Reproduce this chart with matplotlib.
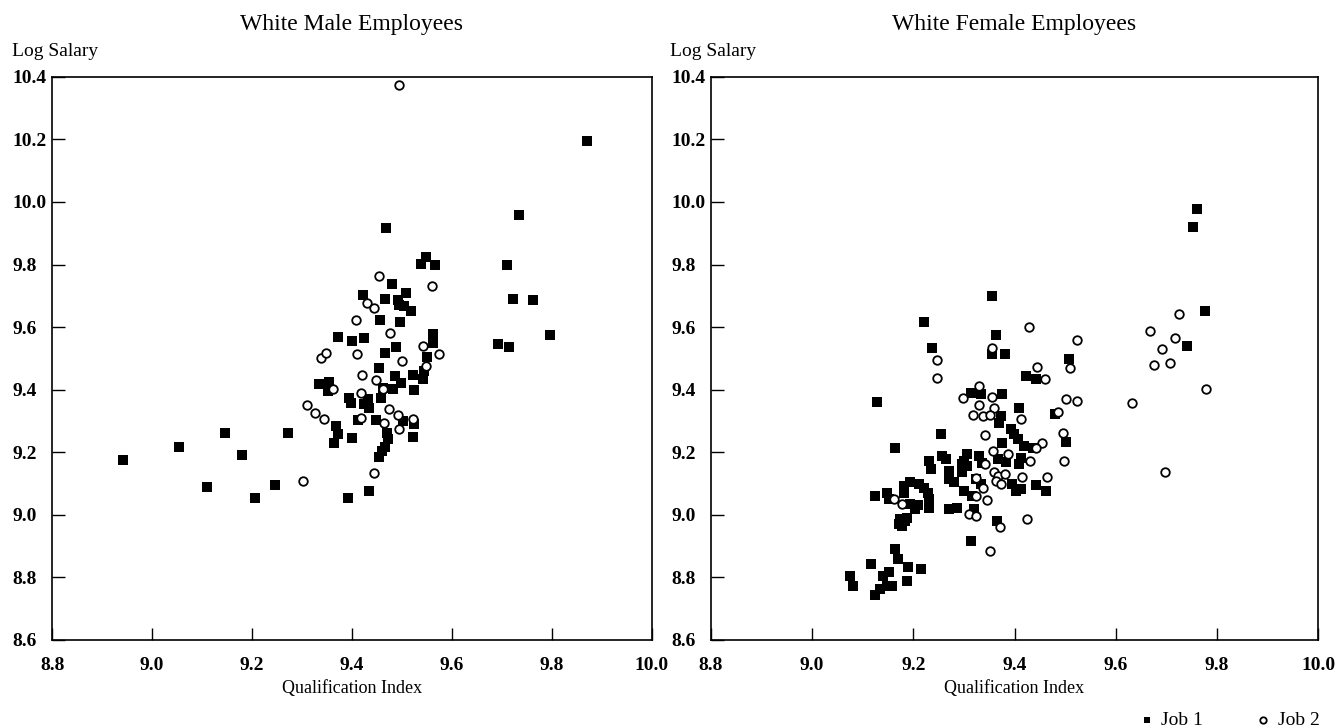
import matplotlib
matplotlib.use("Agg")
import matplotlib.pyplot as plt

plt.rcParams['font.family'] = ['Liberation Serif', 'DejaVu Serif']

# White male employees: (qualification index, log salary)
male_job1_x = [8.942, 9.053, 9.145, 9.179, 9.271, 9.109, 9.206, 9.245, 9.393, 9.369,
               9.372, 9.365, 9.469, 9.735, 9.549, 9.539, 9.566, 9.481, 9.509, 9.423,
               9.467, 9.492, 9.495, 9.505, 9.519, 9.457, 9.497, 9.710, 9.722, 9.763,
               9.797, 9.692, 9.714, 9.372, 9.401, 9.425, 9.563, 9.562, 9.467, 9.489,
               9.551, 9.545, 9.542, 9.455, 9.522, 9.487, 9.499, 9.482, 9.462, 9.525,
               9.335, 9.354, 9.352, 9.395, 9.399, 9.432, 9.435, 9.425, 9.459, 9.412,
               9.449, 9.502, 9.525, 9.401, 9.470, 9.472, 9.467, 9.523, 9.454, 9.870,
               9.435, 9.460]
male_job1_y = [9.174, 9.216, 9.263, 9.190, 9.262, 9.088, 9.053, 9.095, 9.053, 9.284,
               9.257, 9.231, 9.917, 9.957, 9.825, 9.803, 9.799, 9.737, 9.710, 9.702,
               9.691, 9.688, 9.672, 9.667, 9.651, 9.624, 9.616, 9.797, 9.690, 9.686,
               9.574, 9.547, 9.536, 9.568, 9.555, 9.565, 9.577, 9.550, 9.516, 9.536,
               9.504, 9.459, 9.433, 9.470, 9.447, 9.443, 9.422, 9.401, 9.406, 9.398,
               9.417, 9.424, 9.396, 9.374, 9.358, 9.369, 9.343, 9.353, 9.374, 9.302,
               9.302, 9.300, 9.289, 9.245, 9.263, 9.241, 9.218, 9.250, 9.185, 10.196,
               9.075, 9.205]

male_job2_x = [9.301, 9.310, 9.327, 9.345, 9.454, 9.561, 9.431, 9.445, 9.409, 9.477,
               9.542, 9.575, 9.339, 9.349, 9.410, 9.501, 9.549, 9.421, 9.449, 9.463,
               9.362, 9.419, 9.475, 9.492, 9.419, 9.464, 9.522, 9.494, 9.495, 9.445]
male_job2_y = [9.107, 9.352, 9.327, 9.305, 9.763, 9.730, 9.678, 9.660, 9.624, 9.580,
               9.541, 9.515, 9.502, 9.516, 9.515, 9.491, 9.475, 9.447, 9.430, 9.403,
               9.401, 9.388, 9.337, 9.318, 9.311, 9.292, 9.307, 9.273, 10.374, 9.135]

# White female employees
female_job1_x = [9.355, 9.222, 9.363, 9.237, 9.355, 9.381, 9.507, 9.422, 9.442, 9.128,
                 9.313, 9.333, 9.376, 9.409, 9.374, 9.370, 9.481, 9.254, 9.393, 9.399,
                 9.406, 9.501, 9.376, 9.164, 9.419, 9.436, 9.257, 9.231, 9.264, 9.234,
                 9.307, 9.300, 9.297, 9.330, 9.335, 9.368, 9.383, 9.413, 9.409, 9.270,
                 9.270, 9.280, 9.297, 9.307, 9.396, 9.402, 9.412, 9.442, 9.462, 9.323,
                 9.333, 9.300, 9.315, 9.320, 9.270, 9.287, 9.366, 9.181, 9.194, 9.211,
                 9.221, 9.229, 9.230, 9.230, 9.181, 9.125, 9.148, 9.151, 9.194, 9.209,
                 9.204, 9.174, 9.188, 9.171, 9.184, 9.177, 9.313, 9.164, 9.170, 9.117,
                 9.190, 9.216, 9.141, 9.151, 9.188, 9.075, 9.081, 9.148, 9.135, 9.125,
                 9.158, 9.761, 9.752, 9.776, 9.741]
female_job1_y = [9.699, 9.617, 9.574, 9.532, 9.513, 9.513, 9.497, 9.443, 9.435, 9.360,
                 9.390, 9.385, 9.387, 9.343, 9.316, 9.295, 9.321, 9.257, 9.273, 9.257,
                 9.241, 9.234, 9.231, 9.215, 9.220, 9.215, 9.188, 9.172, 9.178, 9.146,
                 9.193, 9.172, 9.162, 9.188, 9.167, 9.178, 9.169, 9.183, 9.162, 9.140,
                 9.116, 9.105, 9.137, 9.156, 9.098, 9.076, 9.082, 9.095, 9.076, 9.114,
                 9.098, 9.076, 9.060, 9.020, 9.018, 9.023, 8.981, 9.092, 9.105, 9.098,
                 9.087, 9.071, 9.050, 9.023, 9.071, 9.060, 9.071, 9.050, 9.034, 9.031,
                 9.018, 8.988, 8.991, 8.970, 8.980, 8.965, 8.917, 8.890, 8.858, 8.842,
                 8.832, 8.826, 8.805, 8.818, 8.789, 8.803, 8.773, 8.773, 8.763, 8.743,
                 8.773, 9.979, 9.921, 9.650, 9.539]

female_job2_x = [9.429, 9.523, 9.356, 9.246, 9.510, 9.444, 9.461, 9.246, 9.330, 9.299,
                 9.356, 9.360, 9.330, 9.501, 9.524, 9.318, 9.338, 9.351, 9.413, 9.485,
                 9.342, 9.495, 9.454, 9.442, 9.358, 9.387, 9.341, 9.430, 9.498, 9.360,
                 9.368, 9.381, 9.363, 9.373, 9.414, 9.465, 9.323, 9.338, 9.324, 9.345,
                 9.310, 9.323, 9.425, 9.371, 9.161, 9.178, 9.352, 9.726, 9.668, 9.718,
                 9.691, 9.675, 9.708, 9.778, 9.632, 9.697]
female_job2_y = [9.601, 9.560, 9.532, 9.494, 9.470, 9.472, 9.434, 9.438, 9.412, 9.372,
                 9.375, 9.343, 9.350, 9.371, 9.365, 9.318, 9.316, 9.319, 9.307, 9.330,
                 9.254, 9.263, 9.229, 9.215, 9.204, 9.193, 9.162, 9.172, 9.172, 9.138,
                 9.124, 9.129, 9.108, 9.098, 9.121, 9.121, 9.117, 9.087, 9.060, 9.047,
                 9.002, 8.997, 8.986, 8.960, 9.050, 9.036, 8.885, 9.643, 9.589, 9.564,
                 9.529, 9.480, 9.484, 9.401, 9.358, 9.136]

xticks = [8.8, 9.0, 9.2, 9.4, 9.6, 9.8, 10.0]
yticks = [8.6, 8.8, 9.0, 9.2, 9.4, 9.6, 9.8, 10.0, 10.2, 10.4]

fig = plt.figure(figsize=(13.4, 7.28), dpi=100)
ax_m = fig.add_axes([0.039, 0.121, 0.4473, 0.7734])
ax_f = fig.add_axes([0.5306, 0.121, 0.453, 0.7734])

panels = [(ax_m, 'White Male Employees', male_job1_x, male_job1_y, male_job2_x, male_job2_y),
          (ax_f, 'White Female Employees', female_job1_x, female_job1_y, female_job2_x, female_job2_y)]

handles = []
for ax, title, x1, y1, x2, y2 in panels:
    h1 = ax.scatter(x1, y1, marker='s', s=44, c='black', linewidths=0, zorder=3)
    h2 = ax.scatter(x2, y2, marker='o', s=38, facecolors='white', edgecolors='black',
                    linewidths=1.3, zorder=4)
    handles = [h1, h2]
    ax.set_xlim(8.8, 10.0)
    ax.set_ylim(8.6, 10.4)
    ax.set_xticks(xticks)
    ax.set_yticks(yticks)
    ax.set_xticklabels(['%.1f' % v for v in xticks], fontweight='bold')
    ax.set_yticklabels(['%.1f' % v for v in yticks], fontweight='bold', ha='left')
    ax.tick_params(direction='in', length=9, width=1, labelsize=14,
                   top=False, right=False)
    ax.tick_params(axis='x', pad=12.5)
    ax.tick_params(axis='y', pad=28.5)
    for sp in ax.spines.values():
        sp.set_linewidth(1.2)
    ax.set_title(title, fontsize=17, pad=34)
    ax.set_xlabel('Qualification Index', fontsize=13, labelpad=4)
    ax.text(-0.068, 1.045, 'Log Salary', transform=ax.transAxes, fontsize=14,
            ha='left', va='center')

fig.legend(handles, ['Job 1', 'Job 2'], loc='lower right', bbox_to_anchor=(0.998, -0.025),
           ncol=2, frameon=False, fontsize=14, markerscale=0.75, handlelength=0.8,
           handletextpad=0.35, columnspacing=2.7)

fig.savefig('out.png', dpi=100)
